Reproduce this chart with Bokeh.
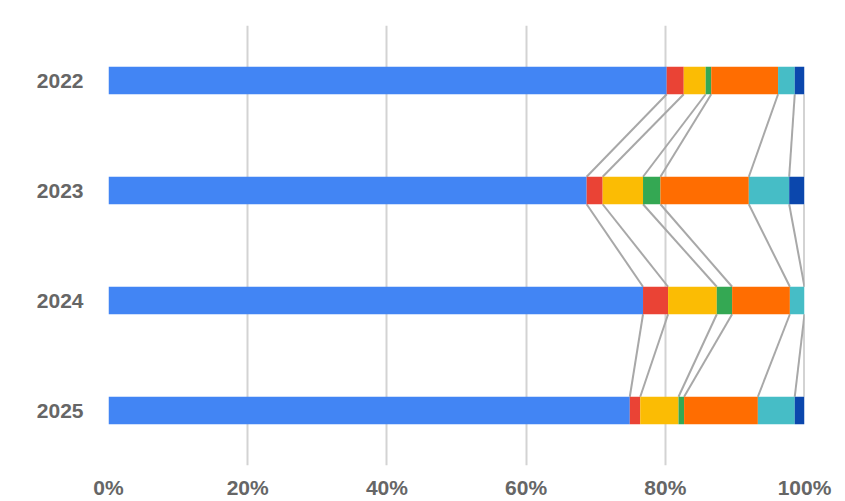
import numpy as np
from bokeh.plotting import figure
from bokeh.models import FactorRange, Range1d, FixedTicker, PrintfTickFormatter, ColumnDataSource
from bokeh.embed import file_html
from bokeh.resources import INLINE

years = ["2022", "2023", "2024", "2025"]
series = ["s1", "s2", "s3", "s4", "s5", "s6", "s7"]
colors = ["#4285F4", "#EA4335", "#FBBC04", "#34A853", "#FF6D01", "#46BDC6", "#0B47AD"]
s1 = [80.2, 68.7, 76.8, 74.9]
s2 = [2.45, 2.3, 3.6, 1.5]
s3 = [3.15, 5.8, 7.0, 5.5]
s4 = [0.8, 2.5, 2.2, 0.8]
s5 = [9.6, 12.7, 8.3, 10.6]
s6 = [2.4, 5.8, 2.1, 5.3]
s7 = [1.4, 2.2, 0.0, 1.4]
x_ticks = [0, 20, 40, 60, 80, 100]

data = dict(year=years, s1=s1, s2=s2, s3=s3, s4=s4, s5=s5, s6=s6, s7=s7)
src = ColumnDataSource(data)

p = figure(width=840, height=501, output_backend="svg", toolbar_location=None,
           y_range=FactorRange(factors=list(reversed(years)), range_padding=0),
           x_range=Range1d(0, 100),
           min_border_left=108, min_border_right=36, min_border_top=25, min_border_bottom=0)
p.outline_line_color = None
p.background_fill_color = "white"

bar_h = 0.25
# connectors
vals = np.array([s1, s2, s3, s4, s5, s6, s7])
cum = np.cumsum(vals, axis=0)
x0, y0, x1, y1 = [], [], [], []
for i in range(len(years) - 1):
    for k in range(len(series)):
        x0.append(float(cum[k, i]))
        y0.append((years[i], -bar_h / 2))
        x1.append(float(cum[k, i + 1]))
        y1.append((years[i + 1], bar_h / 2))
p.segment(x0=x0, y0=y0, x1=x1, y1=y1, line_color="#a8a8a8", line_width=2)

p.hbar_stack(series, y="year", height=bar_h, color=colors, source=src, line_width=0)

p.xgrid.grid_line_color = "#d3d3d3"
p.xgrid.grid_line_width = 2
p.xgrid.ticker = FixedTicker(ticks=x_ticks)
p.ygrid.grid_line_color = None

p.xaxis.ticker = FixedTicker(ticks=x_ticks)
p.xaxis.formatter = PrintfTickFormatter(format="%d%%")
for ax in (p.xaxis, p.yaxis):
    ax.axis_line_color = None
    ax.major_tick_line_color = None
    ax.minor_tick_line_color = None
    ax.major_label_text_font = "Liberation Sans"
    ax.major_label_text_font_style = "bold"
    ax.major_label_text_font_size = "21px"
    ax.major_label_text_color = "#666666"
p.xaxis.major_label_standoff = 4
p.yaxis.major_label_standoff = 19

open("out.html", "w").write(file_html(p, INLINE))
